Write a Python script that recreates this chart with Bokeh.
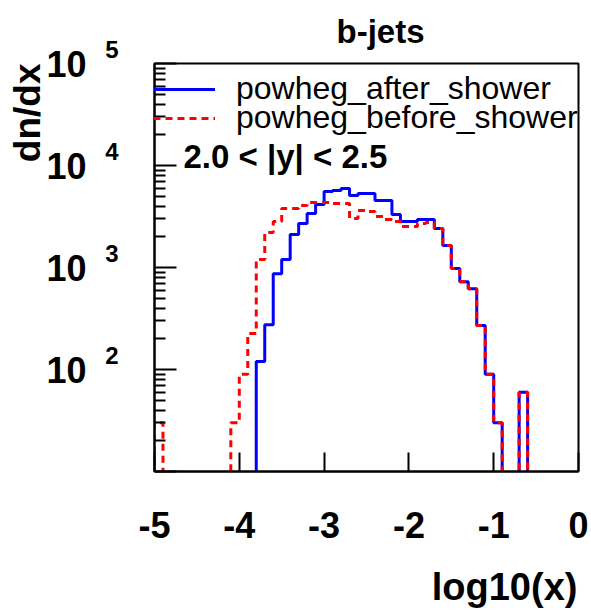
import numpy as np
from bokeh.plotting import figure
from bokeh.models import FixedTicker, Label, Legend, LegendItem, LogAxis, Title
from bokeh.embed import file_html
from bokeh.resources import INLINE

FONT = "Liberation Sans"

# Histogram binning in log10(x): 50 bins of width 0.1 between -5 and 0
bin_lo = -5.0
bin_width = 0.1
n_bins = 50

# dn/dx per bin, b-jets with 2.0 < |y| < 2.5
after_shower = [
    0, 0, 0, 0, 0, 0, 0, 0, 0, 0,
    0, 0, 120, 275, 870, 1200, 2110, 2700, 3380, 4150,
    5570, 5700, 5950, 5080, 5300, 5300, 4540, 4540, 3300, 2830,
    2830, 2950, 2950, 2410, 1645, 975, 725, 620, 270, 90,
    30, 0, 0, 60, 0, 0, 0, 0, 0, 0,
]
before_shower = [
    30, 0, 0, 0, 0, 0, 0, 0, 0, 30,
    90, 225, 1200, 2200, 2820, 3790, 3790, 4050, 4340, 4340,
    4340, 4240, 4240, 3020, 3620, 3540, 3160, 2950, 2820, 2520,
    2520, 2700, 2760, 2410, 1645, 975, 725, 620, 270, 90,
    30, 0, 0, 60, 0, 0, 0, 0, 0, 0,
]

series_labels = ["powheg_after_shower", "powheg_before_shower"]

x_ticks = [-5, -4, -3, -2, -1, 0]
x_tick_labels = ["-5", "-4", "-3", "-2", "-1", "0"]
y_decades = [1, 2, 3, 4, 5]
y_decade_labels = ["", "10", "10", "10", "10"]
y_exponent_labels = ["", "2", "3", "4", "5"]


def outline(values, floor=1.0):
    """Closed step outline of a histogram; empty bins drop below the axis floor."""
    edges = bin_lo + bin_width * np.arange(n_bins + 1)
    v = np.asarray(values, dtype=float)
    v = np.where(v > 0, v, floor)
    xs = np.concatenate([[edges[0]], np.repeat(edges, 2)[1:-1], [edges[-1]]])
    ys = np.concatenate([[floor], np.repeat(v, 2), [floor]])
    return xs, ys


p = figure(
    width=591, height=610,
    x_range=(-5, 0), y_range=(10, 1e5), y_axis_type="log",
    output_backend="svg", toolbar_location=None,
    min_border_left=154, min_border_right=13,
    min_border_top=63, min_border_bottom=138,
)
p.grid.visible = False
p.outline_line_color = "black"
p.outline_line_width = 2
p.background_fill_color = "white"
p.border_fill_color = "white"

# title above the frame
p.title.text = "b-jets"
p.title.align = "left"
p.title.offset = 182
p.title.vertical_align = "top"
p.title.standoff = 24
p.title.text_font = FONT
p.title.text_font_size = "33px"
p.title.text_font_style = "bold"
p.title.text_color = "black"

# x axis: major ticks only, drawn inward; the axis title sits at the right end
# (it is centred on the axis end, so it is padded on its right with blank space)
xax = p.xaxis[0]
xax.ticker = FixedTicker(ticks=x_ticks)
xax.major_label_overrides = {t: s for t, s in zip(x_ticks, x_tick_labels)}
xax.minor_tick_line_color = None
xax.major_tick_in = 19
xax.major_tick_out = 0
xax.major_tick_line_width = 2
xax.axis_line_width = 2
xax.major_label_text_font = FONT
xax.major_label_text_font_size = "36px"
xax.major_label_text_font_style = "bold"
xax.major_label_text_color = "black"
xax.major_label_standoff = 40
xax.axis_label = "log10(x)" + "\u00a0" * 14
xax.axis_label_align = "end"
xax.axis_label_standoff = 25
xax.axis_label_text_font = FONT
xax.axis_label_text_font_size = "38px"
xax.axis_label_text_font_style = "bold"
xax.axis_label_text_color = "black"

# y axis: decades with 2..9 minor ticks drawn inward; this axis carries the exponents
y_major = [10.0 ** k for k in y_decades]
y_minor = [m * 10.0 ** k for k in y_decades[:-1] for m in range(2, 10)]
yax = p.yaxis[0]
yax.ticker = FixedTicker(ticks=y_major, minor_ticks=y_minor)
yax.major_label_overrides = {10 ** k: (e + "\n" if e else "")
                             for k, e in zip(y_decades, y_exponent_labels)}
yax.major_tick_in = 22
yax.major_tick_out = 0
yax.minor_tick_in = 11
yax.minor_tick_out = 0
yax.major_tick_line_width = 2
yax.minor_tick_line_width = 2
yax.axis_line_width = 2
yax.major_label_text_font = FONT
yax.major_label_text_font_size = "24px"
yax.major_label_text_font_style = "bold"
yax.major_label_text_line_height = 1.05
yax.major_label_text_color = "black"
yax.major_label_standoff = 36

# mantissa "10" of each decade label, set just left of the exponents
ybase = LogAxis(ticker=FixedTicker(ticks=y_major),
                major_label_overrides={10 ** k: s for k, s in zip(y_decades, y_decade_labels)},
                axis_line_color=None, major_tick_line_color=None, minor_tick_line_color=None,
                major_tick_in=0, major_tick_out=0, minor_tick_in=0, minor_tick_out=0,
                major_label_standoff=16, major_label_text_font=FONT,
                major_label_text_font_size="36px", major_label_text_font_style="bold",
                major_label_text_color="black")
p.add_layout(ybase, "left")

p.add_layout(Title(text="dn/dx", align="right", offset=0, vertical_align="bottom",
                   standoff=-8, text_font=FONT, text_font_size="37px",
                   text_font_style="bold", text_color="black"), "left")

# histograms
xs_a, ys_a = outline(after_shower)
xs_b, ys_b = outline(before_shower)
r_after = p.line(xs_a, ys_a, line_color="blue", line_width=3)
r_before = p.line(xs_b, ys_b, line_color="red", line_width=3, line_dash="7 5")

# one legend entry per series, stacked tightly in the upper left
legend_style = dict(
    orientation="vertical", glyph_width=74, glyph_height=36, label_height=36,
    label_standoff=21, label_text_font=FONT, label_text_font_size="32px",
    label_text_color="black", padding=0, margin=0, spacing=0,
    background_fill_alpha=0, border_line_alpha=0,
)
p.add_layout(Legend(items=[LegendItem(label=series_labels[0], renderers=[r_after])],
                    location=(-13, 364), **legend_style))
p.add_layout(Legend(items=[LegendItem(label=series_labels[1], renderers=[r_before])],
                    location=(-13, 335), **legend_style))

p.add_layout(Label(x=29, y=315, x_units="screen", y_units="screen", text="2.0 < |y| < 2.5",
                   text_align="left", text_baseline="middle", text_font=FONT,
                   text_font_size="33px", text_font_style="bold", text_color="black"))

open("out.html", "w").write(file_html(p, INLINE))
